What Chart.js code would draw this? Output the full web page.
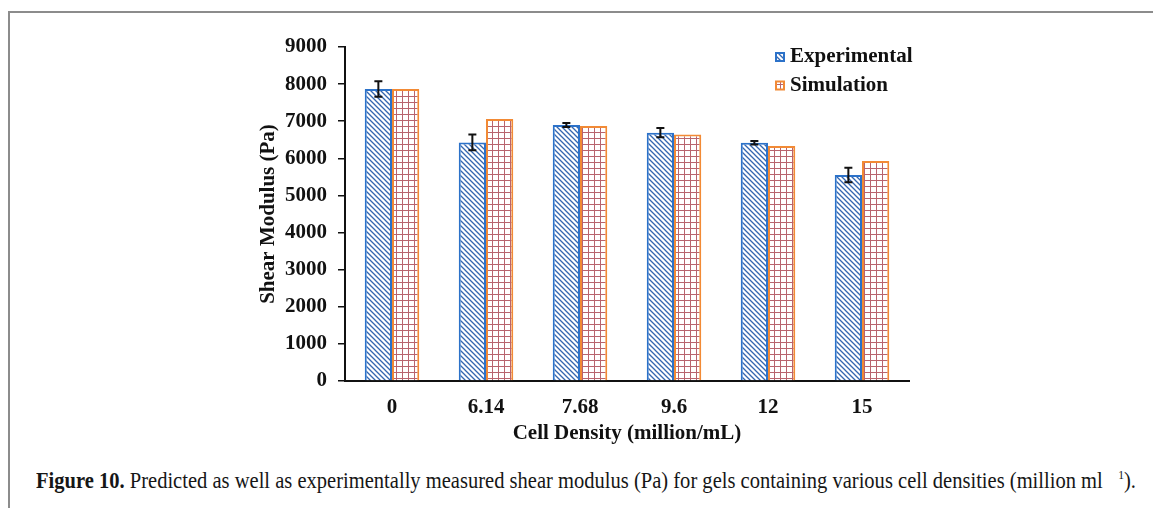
<!DOCTYPE html>
<html>
<head>
<meta charset="utf-8">
<script src="https://cdn.jsdelivr.net/npm/chart.js@4.4.0/dist/chart.umd.min.js"></script>
<style>
  html, body { margin: 0; padding: 0; background: #fff; width: 1153px; height: 508px; overflow: hidden; }
  #frame { position: absolute; left: 8px; top: 11px; width: 1300px; height: 700px;
           border-left: 2px solid #8c8c8c; border-top: 2px solid #8c8c8c; }
  #chart { position: absolute; left: 0; top: 0; }
  #caption { position: absolute; left: 36px; top: 468px; font-family: "Liberation Serif", serif;
             font-size: 23px; line-height: 26px; white-space: nowrap; color: #161616; transform-origin: 0 0; }
  #caption sup { font-size: 13px; vertical-align: 9px; line-height: 0; }
</style>
</head>
<body>
<div id="frame"></div>
<canvas id="chart" width="1153" height="460"></canvas>
<div id="caption"><b>Figure 10.</b> Predicted as well as experimentally measured shear modulus (Pa) for gels containing various cell densities (million ml&nbsp;&nbsp;&nbsp;<sup>1</sup>).</div>
<script>
// chart data
const categories = ['0', '6.14', '7.68', '9.6', '12', '15'];
const experimental = [7870, 6430, 6900, 6690, 6420, 5550];
const expError = [210, 210, 55, 125, 45, 195];
const simulation = [7870, 7060, 6870, 6645, 6330, 5925];

const serif = "'Liberation Serif', 'Times New Roman', serif";
Chart.defaults.font.family = serif;
Chart.defaults.font.weight = 'bold';
Chart.defaults.font.size = 21;
Chart.defaults.color = '#111';

function makePattern(kind) {
  const c = document.createElement('canvas');
  const ctx = c.getContext('2d');
  if (kind === 'diag') {
    const s = 5;
    c.width = s; c.height = s;
    ctx.fillStyle = '#fff';
    ctx.fillRect(0, 0, s, s);
    ctx.strokeStyle = '#3466b0';
    ctx.lineWidth = 1.3;
    ctx.beginPath();
    ctx.moveTo(-1, -1); ctx.lineTo(s + 1, s + 1);
    ctx.moveTo(-1, s - 1); ctx.lineTo(1, s + 1);
    ctx.moveTo(s - 1, -1); ctx.lineTo(s + 1, 1);
    ctx.stroke();
  } else {
    const s = 6;
    c.width = s; c.height = s;
    ctx.fillStyle = '#fff';
    ctx.fillRect(0, 0, s, s);
    ctx.fillStyle = '#b8646e';
    ctx.fillRect(0, 0, s, 1);
    ctx.fillRect(0, 0, 1, s);
  }
  return ctx.createPattern(c, 'repeat');
}

const expFill = makePattern('diag');
const simFill = makePattern('grid');

// error bars on the experimental series
const errorBars = {
  id: 'errorBars',
  afterDatasetsDraw(chart) {
    const ctx = chart.ctx;
    const y = chart.scales.y;
    const meta = chart.getDatasetMeta(0);
    ctx.save();
    ctx.strokeStyle = '#111';
    ctx.lineWidth = 2;
    meta.data.forEach((bar, i) => {
      const top = y.getPixelForValue(experimental[i] + expError[i]);
      const bot = y.getPixelForValue(experimental[i] - expError[i]);
      ctx.beginPath();
      ctx.moveTo(bar.x, top); ctx.lineTo(bar.x, bot);
      ctx.moveTo(bar.x - 4, top); ctx.lineTo(bar.x + 4, top);
      ctx.moveTo(bar.x - 4, bot); ctx.lineTo(bar.x + 4, bot);
      ctx.stroke();
    });
    ctx.restore();
  }
};

// legend drawn inside the plot, top right
const boxLegend = {
  id: 'boxLegend',
  afterDraw(chart) {
    const ctx = chart.ctx;
    const area = chart.chartArea;
    const x = area.right - 133;
    ctx.save();
    ctx.font = 'bold 21px ' + serif;
    ctx.textBaseline = 'middle';
    chart.data.datasets.forEach((ds, i) => {
      const cy = area.top + 10 + i * 28.5;
      ctx.fillStyle = ds.backgroundColor;
      ctx.fillRect(x, cy - 4, 8, 8);
      ctx.strokeStyle = ds.borderColor;
      ctx.lineWidth = 2;
      ctx.strokeRect(x, cy - 4, 8, 8);
      ctx.fillStyle = '#111';
      ctx.fillText(ds.label, x + 14, cy);
    });
    ctx.restore();
  }
};

new Chart(document.getElementById('chart'), {
  type: 'bar',
  data: {
    labels: categories,
    datasets: [
      { label: 'Experimental', data: experimental, backgroundColor: expFill,
        borderColor: '#2c72c9', borderWidth: 2 },
      { label: 'Simulation', data: simulation, backgroundColor: simFill,
        borderColor: '#f28a35', borderWidth: 2 }
    ]
  },
  options: {
    responsive: false,
    animation: false,
    devicePixelRatio: 1,
    categoryPercentage: 0.58,
    barPercentage: 1.0,
    layout: { padding: { left: 240, right: 244, top: 47, bottom: 9 } },
    plugins: { legend: { display: false }, tooltip: { enabled: false } },
    scales: {
      x: {
        grid: { display: true, drawOnChartArea: false, drawTicks: false, color: 'rgba(0,0,0,0)' },
        border: { color: '#111', width: 2 },
        ticks: { padding: 14, color: '#111' },
        title: { display: true, text: 'Cell Density (million/mL)', color: '#111', padding: { top: 0, bottom: 5 } },
        afterFit: s => { s.height = 70; }
      },
      y: {
        min: 0, max: 9000,
        grid: { drawOnChartArea: false, drawTicks: true, tickLength: 7, color: '#111', lineWidth: 1.5 },
        border: { color: '#111', width: 2 },
        ticks: { stepSize: 1000, padding: 11, color: '#111', callback: v => String(v) },
        title: { display: true, text: 'Shear Modulus (Pa)', color: '#111', padding: { top: 16, bottom: 0 } },
        afterFit: s => { s.width = 105; }
      }
    }
  },
  plugins: [errorBars, boxLegend]
});

// fit the caption to the width it has in the figure
const cap = document.getElementById('caption');
const w = cap.getBoundingClientRect().width;
cap.style.transform = 'scaleX(' + (1100 / w) + ')';
</script>
</body>
</html>
